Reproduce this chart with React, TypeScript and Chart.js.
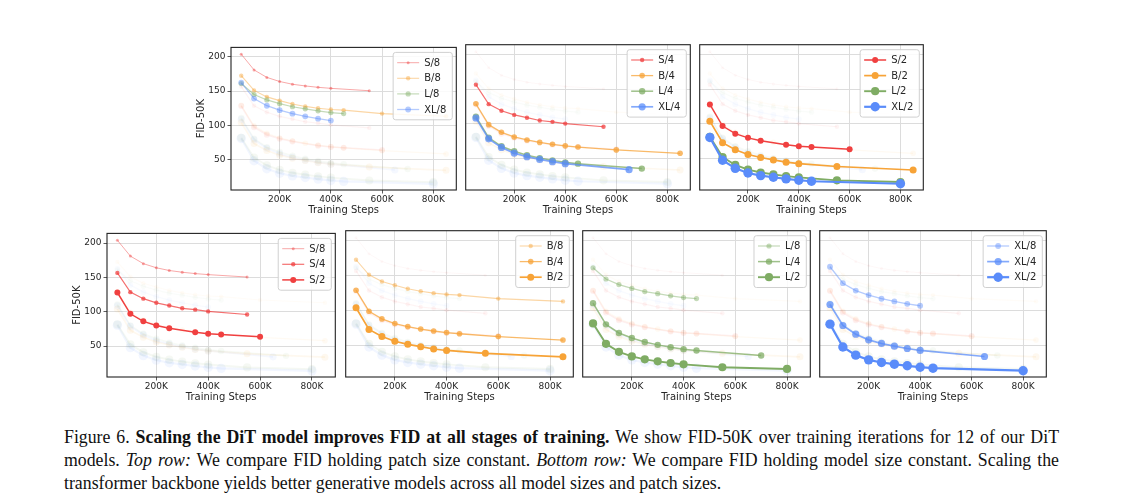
import React, { useEffect, useRef } from 'react';
import { Chart, registerables } from 'chart.js';

Chart.register(...registerables);
Chart.defaults.font.family = "'DejaVu Sans', sans-serif";

// ---- data (training steps in K, FID-50K) ----
const S8_steps = [50, 100, 150, 200, 250, 300, 350, 400, 550];
const S8_fid = [204, 181, 170, 164, 160, 157.5, 155.5, 154, 150.5];
const S4_steps = [50, 100, 150, 200, 250, 300, 350, 400, 550];
const S4_fid = [156.5, 128.5, 119, 113, 109, 105, 103, 100.5, 96];
const S2_steps = [50, 100, 150, 200, 250, 350, 400, 450, 600];
const S2_fid = [128, 97, 86, 80, 76, 70, 68, 67, 63.5];
const B8_steps = [50, 100, 150, 200, 250, 300, 350, 400, 450, 600, 850];
const B8_fid = [172.5, 151, 141.5, 136, 131, 127.5, 124.8, 123, 122, 117, 113];
const B4_steps = [50, 100, 150, 200, 250, 300, 350, 400, 450, 600, 850];
const B4_fid = [129, 99, 88, 81.3, 77, 73.5, 70.7, 68.5, 66.8, 62.7, 57.8];
const B2_steps = [50, 100, 150, 200, 250, 300, 350, 400, 550, 850];
const B2_fid = [104, 73, 62.8, 56, 51.7, 48.3, 45, 42.9, 38.8, 33.8];
const L8_steps = [50, 100, 150, 200, 250, 300, 350, 400, 450];
const L8_fid = [161, 145, 137, 131.5, 127, 124, 121, 118.5, 117];
const L4_steps = [50, 100, 150, 200, 250, 300, 350, 400, 450, 700];
const L4_fid = [110.5, 80.2, 67.9, 60.8, 55.1, 50.9, 47.6, 44.8, 42.9, 35.8];
const L2_steps = [50, 100, 150, 200, 250, 300, 350, 400, 550, 800];
const L2_fid = [81.5, 52.4, 41, 34.4, 30.2, 27.4, 25, 23.1, 18.9, 16.5];
const XL8_steps = [50, 100, 150, 200, 250, 300, 350, 400];
const XL8_fid = [162.5, 139, 128.5, 122, 116.8, 113, 109.5, 106.8];
const XL4_steps = [50, 100, 150, 200, 250, 300, 350, 400, 650];
const XL4_fid = [108.6, 78.6, 66.2, 58.1, 52.9, 49, 45.7, 42.9, 34.3];
const XL2_steps = [50, 100, 150, 200, 250, 300, 350, 400, 450, 800];
const XL2_fid = [80.5, 47.8, 36.2, 29.5, 25.7, 23.3, 21, 19, 17.6, 14];

const X_TICKS = [200, 400, 600, 800];
const Y_TICKS = [50, 100, 150, 200];
const X_TITLE = 'Training Steps';
const Y_TITLE = 'FID-50K';

const TOP_ROW = [
  ['S/8', 'B/8', 'L/8', 'XL/8'],
  ['S/4', 'B/4', 'L/4', 'XL/4'],
  ['S/2', 'B/2', 'L/2', 'XL/2'],
];
const BOTTOM_ROW = [
  ['S/8', 'S/4', 'S/2'],
  ['B/8', 'B/4', 'B/2'],
  ['L/8', 'L/4', 'L/2'],
  ['XL/8', 'XL/4', 'XL/2'],
];

type Size = 'S' | 'B' | 'L' | 'XL';
type Model = { name: string; size: Size; patch: number; steps: number[]; fid: number[] };

const MODELS: Model[] = [
  { name: 'S/8', size: 'S', patch: 8, steps: S8_steps, fid: S8_fid },
  { name: 'S/4', size: 'S', patch: 4, steps: S4_steps, fid: S4_fid },
  { name: 'S/2', size: 'S', patch: 2, steps: S2_steps, fid: S2_fid },
  { name: 'B/8', size: 'B', patch: 8, steps: B8_steps, fid: B8_fid },
  { name: 'B/4', size: 'B', patch: 4, steps: B4_steps, fid: B4_fid },
  { name: 'B/2', size: 'B', patch: 2, steps: B2_steps, fid: B2_fid },
  { name: 'L/8', size: 'L', patch: 8, steps: L8_steps, fid: L8_fid },
  { name: 'L/4', size: 'L', patch: 4, steps: L4_steps, fid: L4_fid },
  { name: 'L/2', size: 'L', patch: 2, steps: L2_steps, fid: L2_fid },
  { name: 'XL/8', size: 'XL', patch: 8, steps: XL8_steps, fid: XL8_fid },
  { name: 'XL/4', size: 'XL', patch: 4, steps: XL4_steps, fid: XL4_fid },
  { name: 'XL/2', size: 'XL', patch: 2, steps: XL2_steps, fid: XL2_fid },
];

// ---- styles ----
const BASE_RGB: Record<Size, number[]> = {
  S: [240, 64, 64],
  B: [247, 163, 55],
  L: [127, 172, 100],
  XL: [90, 140, 250],
};
const PATCH_ALPHA: Record<number, number> = { 8: 0.45, 4: 0.75, 2: 1 };
const RADIUS: Record<Size, Record<number, number>> = {
  S: { 8: 1.5, 4: 2.2, 2: 3.0 },
  B: { 8: 2.2, 4: 2.8, 2: 3.5 },
  L: { 8: 2.6, 4: 3.2, 2: 4.1 },
  XL: { 8: 2.9, 4: 3.6, 2: 4.7 },
};
const LINE_W: Record<Size, Record<number, number>> = {
  S: { 8: 1.0, 4: 1.2, 2: 1.5 },
  B: { 8: 1.1, 4: 1.3, 2: 1.7 },
  L: { 8: 1.2, 4: 1.5, 2: 1.9 },
  XL: { 8: 1.3, 4: 1.7, 2: 2.2 },
};
const GHOST = 0.08;

const rgba = (size: Size, a: number) => {
  const c = BASE_RGB[size];
  return `rgba(${c[0]},${c[1]},${c[2]},${a})`;
};

type Box = { l: number; t: number; w: number; h: number };
type PanelDef = { models: string[]; box: Box; yLabels: boolean };

const PANELS: PanelDef[] = [
  { models: TOP_ROW[0], box: { l: 231, t: 44, w: 226, h: 146 }, yLabels: true },
  { models: TOP_ROW[1], box: { l: 463, t: 44, w: 228, h: 146 }, yLabels: false },
  { models: TOP_ROW[2], box: { l: 697, t: 44, w: 227, h: 146 }, yLabels: false },
  { models: BOTTOM_ROW[0], box: { l: 107, t: 230, w: 229, h: 147 }, yLabels: true },
  { models: BOTTOM_ROW[1], box: { l: 343, t: 230, w: 231, h: 147 }, yLabels: false },
  { models: BOTTOM_ROW[2], box: { l: 580, t: 230, w: 231, h: 147 }, yLabels: false },
  { models: BOTTOM_ROW[3], box: { l: 817, t: 230, w: 230, h: 147 }, yLabels: false },
];

const Y_AXIS_W = 36;
const X_AXIS_H = 26;
const PAD = { left: 2, right: 4, top: 4, bottom: 0 };
const TEXT = '#262626';

const framePlugin = {
  id: 'frameAndLegend',
  afterDraw(chart: any) {
    const { ctx, chartArea } = chart;
    const ca = chartArea;
    // legend
    const items = chart.data.datasets.filter((d: any) => d.hl);
    ctx.save();
    ctx.font = "10px 'DejaVu Sans', sans-serif";
    const rowH = 15.6;
    const padL = 4, lineLen = 22, gap = 5, padR = 6;
    let maxW = 0;
    items.forEach((d: any) => { maxW = Math.max(maxW, ctx.measureText(d.label).width); });
    const bw = padL + lineLen + gap + maxW + padR;
    const bh = 5 + items.length * rowH;
    const bx = ca.right - 4 - bw;
    const by = ca.top + 5;
    ctx.beginPath();
    if (ctx.roundRect) ctx.roundRect(bx, by, bw, bh, 2.5); else ctx.rect(bx, by, bw, bh);
    ctx.fillStyle = 'rgba(255,255,255,0.85)';
    ctx.fill();
    ctx.strokeStyle = '#d0d0d0';
    ctx.lineWidth = 1;
    ctx.stroke();
    items.forEach((d: any, i: number) => {
      const cy = by + 2.5 + rowH * (i + 0.5);
      const x0 = bx + padL;
      ctx.strokeStyle = d.borderColor;
      ctx.lineWidth = d.borderWidth;
      ctx.beginPath();
      ctx.moveTo(x0, cy);
      ctx.lineTo(x0 + lineLen, cy);
      ctx.stroke();
      ctx.fillStyle = d.pointBackgroundColor;
      ctx.beginPath();
      ctx.arc(x0 + lineLen / 2, cy, d.pointRadius, 0, Math.PI * 2);
      ctx.fill();
      ctx.fillStyle = TEXT;
      ctx.textBaseline = 'middle';
      ctx.textAlign = 'left';
      ctx.fillText(d.label, x0 + lineLen + gap, cy + 0.5);
    });
    // frame
    ctx.strokeStyle = '#222';
    ctx.lineWidth = 1.1;
    ctx.strokeRect(ca.left, ca.top, ca.right - ca.left, ca.bottom - ca.top);
    ctx.restore();
  },
};

function Panel({ def }: { def: PanelDef }) {
  const ref = useRef<HTMLCanvasElement>(null);
  const yw = def.yLabels ? Y_AXIS_W : 0;
  const cw = PAD.left + yw + def.box.w + PAD.right;
  const ch = PAD.top + def.box.h + X_AXIS_H;
  const cl = def.box.l - yw - PAD.left;
  const ct = def.box.t - PAD.top;

  useEffect(() => {
    if (!ref.current) return;
    const datasets: any[] = [];
    MODELS.forEach((m) => {
      if (def.models.includes(m.name)) return;
      const a = PATCH_ALPHA[m.patch] * GHOST;
      datasets.push({
        label: m.name,
        data: m.steps.map((s, i) => ({ x: s * 1000, y: m.fid[i] })),
        borderColor: rgba(m.size, a),
        backgroundColor: rgba(m.size, a),
        pointBackgroundColor: rgba(m.size, a),
        pointBorderWidth: 0,
        pointRadius: RADIUS[m.size][m.patch],
        borderWidth: LINE_W[m.size][m.patch],
        order: 100,
        hl: false,
      });
    });
    def.models.forEach((name, i) => {
      const m = MODELS.find((x) => x.name === name)!;
      const a = PATCH_ALPHA[m.patch];
      datasets.push({
        label: m.name,
        data: m.steps.map((s, j) => ({ x: s * 1000, y: m.fid[j] })),
        borderColor: rgba(m.size, a),
        backgroundColor: rgba(m.size, a),
        pointBackgroundColor: rgba(m.size, a),
        pointBorderWidth: 0,
        pointRadius: RADIUS[m.size][m.patch],
        borderWidth: LINE_W[m.size][m.patch],
        order: -i,
        hl: true,
      });
    });

    const tickFont = { size: 9, family: "'DejaVu Sans', sans-serif" };
    const titleFont = { size: 10, family: "'DejaVu Sans', sans-serif" };
    const chart = new Chart(ref.current, {
      type: 'line',
      data: { datasets },
      options: {
        animation: false,
        responsive: false,
        events: [],
        layout: { padding: PAD },
        plugins: { legend: { display: false }, tooltip: { enabled: false } },
        elements: { line: { tension: 0 } },
        scales: {
          x: {
            type: 'linear',
            min: 10000,
            max: 890000,
            afterBuildTicks: (s: any) => { s.ticks = X_TICKS.map((v) => ({ value: v * 1000 })); },
            afterFit: (s: any) => { s.height = X_AXIS_H; },
            ticks: {
              callback: (v: any) => `${Math.round(Number(v) / 1000)}K`,
              font: tickFont,
              color: TEXT,
              padding: 1,
              maxRotation: 0,
              autoSkip: false,
            },
            grid: { color: '#dcdcdc', lineWidth: 1, drawTicks: true, tickLength: 3.5, tickColor: '#333', tickWidth: 0.8 },
            border: { display: false },
            title: { display: true, text: X_TITLE, font: titleFont, color: TEXT, padding: { top: 0, bottom: 0 } },
          },
          y: {
            type: 'linear',
            min: 5,
            max: 214,
            afterBuildTicks: (s: any) => { s.ticks = Y_TICKS.map((v) => ({ value: v })); },
            afterFit: (s: any) => { s.width = yw; },
            ticks: { display: def.yLabels, font: tickFont, color: TEXT, padding: 2 },
            grid: { color: '#dcdcdc', lineWidth: 1, drawTicks: def.yLabels, tickLength: 3.5, tickColor: '#333', tickWidth: 0.8 },
            border: { display: false },
            title: { display: def.yLabels, text: Y_TITLE, font: titleFont, color: TEXT, padding: { top: 0, bottom: 0 } },
          },
        },
      } as any,
      plugins: [framePlugin],
    });
    return () => chart.destroy();
  }, []);

  return (
    <canvas
      ref={ref}
      width={cw}
      height={ch}
      style={{ position: 'absolute', left: cl, top: ct, width: cw, height: ch }}
    />
  );
}

const CAPTION_FONT = "'Liberation Serif', 'Times New Roman', serif";

export default function App() {
  return (
    <div style={{ position: 'absolute', left: 0, top: 0, width: 1128, height: 501, background: '#fff', overflow: 'hidden' }}>
      {PANELS.map((p, i) => <Panel key={i} def={p} />)}
      <div style={{ position: 'absolute', left: 64, top: 426, width: 995, fontFamily: CAPTION_FONT, fontSize: 17.8, lineHeight: '23px', color: '#111' }}>
        <div style={{ textAlign: 'justify', textAlignLast: 'justify' as any, whiteSpace: 'nowrap' as any }}>
          Figure 6. <b>Scaling the DiT model improves FID at all stages of training.</b> We show FID-50K over training iterations for 12 of our DiT
        </div>
        <div style={{ textAlign: 'justify', textAlignLast: 'justify' as any, whiteSpace: 'nowrap' as any }}>
          models. <i>Top row:</i> We compare FID holding patch size constant. <i>Bottom row:</i> We compare FID holding model size constant. Scaling the
        </div>
        <div style={{ whiteSpace: 'nowrap' as any }}>transformer backbone yields better generative models across all model sizes and patch sizes.</div>
      </div>
    </div>
  );
}
